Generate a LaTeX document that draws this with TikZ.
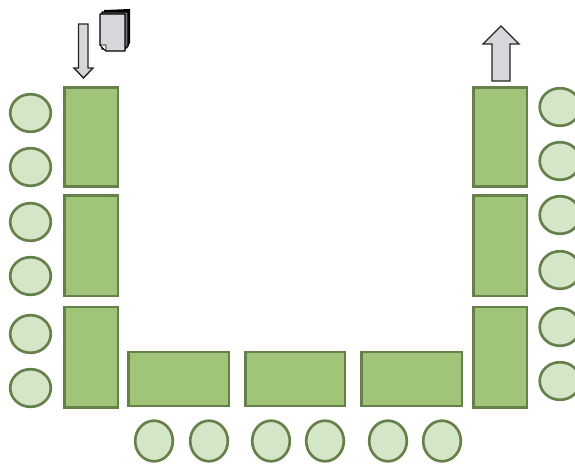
\documentclass[tikz,border=0pt]{standalone}
\definecolor{seatfill}{HTML}{D5E5C8}
\definecolor{deskfill}{HTML}{A0C578}
\definecolor{edgegreen}{HTML}{66804A}
\definecolor{arrowgrey}{HTML}{D6D7DA}
\tikzset{
  seat/.style={draw=edgegreen,fill=seatfill,line width=2pt},
  desk/.style={draw=edgegreen,fill=deskfill,line width=1.9pt},
  bigarrow/.style={draw=black!85,fill=arrowgrey,line width=1.05pt,line join=miter},
  sheet/.style={draw=black,fill=arrowgrey,line width=1pt,line join=round}
}
\begin{document}
\begin{tikzpicture}[x=0.75pt,y=-0.75pt]
\useasboundingbox (0,0) rectangle (575,464);
\clip (0,0) rectangle (575,464);
\fill[white] (0,0) rectangle (575,464);
% desks
\foreach \n/\xa/\ya/\xb/\yb in {l1/64.5/87.5/118/186.5,l2/64.5/195.5/118/296,l3/64.5/307/118/407.5,
  r1/473.5/87.5/527/186.5,r2/473.5/195.5/527/296,r3/473.5/307/527/407.5,
  b1/128.5/352/229/406,b2/245.5/352/345/406,b3/361.5/352/462/406}
  \draw[desk] (\xa,\ya) rectangle (\xb,\yb) coordinate (\n);
% seats
\foreach \y in {113,167,222,276,334,388}
  \draw[seat] (30.5,\y) ellipse [x radius=20.3,y radius=18.8];
\foreach \y in {107,161,215,270,327,381}
  \draw[seat] (560,\y) ellipse [x radius=20.3,y radius=18.8];
\foreach \x in {154,209,271,325,388,442}
  \draw[seat] (\x,441) ellipse [x radius=18.8,y radius=20.3];
% arrows
\draw[bigarrow] (78.5,24) -- (88,24) -- (88,68) -- (93,68) -- (83.5,78) -- (74,68) -- (78.5,68) -- cycle;
\draw[bigarrow] (492,81) -- (510,81) -- (510,44) -- (519,44) -- (501,26) -- (483,44) -- (492,44) -- cycle;
% document stack
\fill[black] (104,10) -- (130,9) -- (130,43) -- (127,48) -- (104,48) -- cycle;
\draw[sheet,fill=black!55] (102,12) -- (128,12) -- (128,46) -- (125,49) -- (102,49) -- cycle;
\draw[sheet] (100,14) -- (125,14) -- (125,51) -- (106,51) -- (100,45) -- cycle;
\draw[sheet,fill=white,line width=0.5pt] (100,45) -- (106,45) -- (106,51) -- cycle;
\end{tikzpicture}
\end{document}
